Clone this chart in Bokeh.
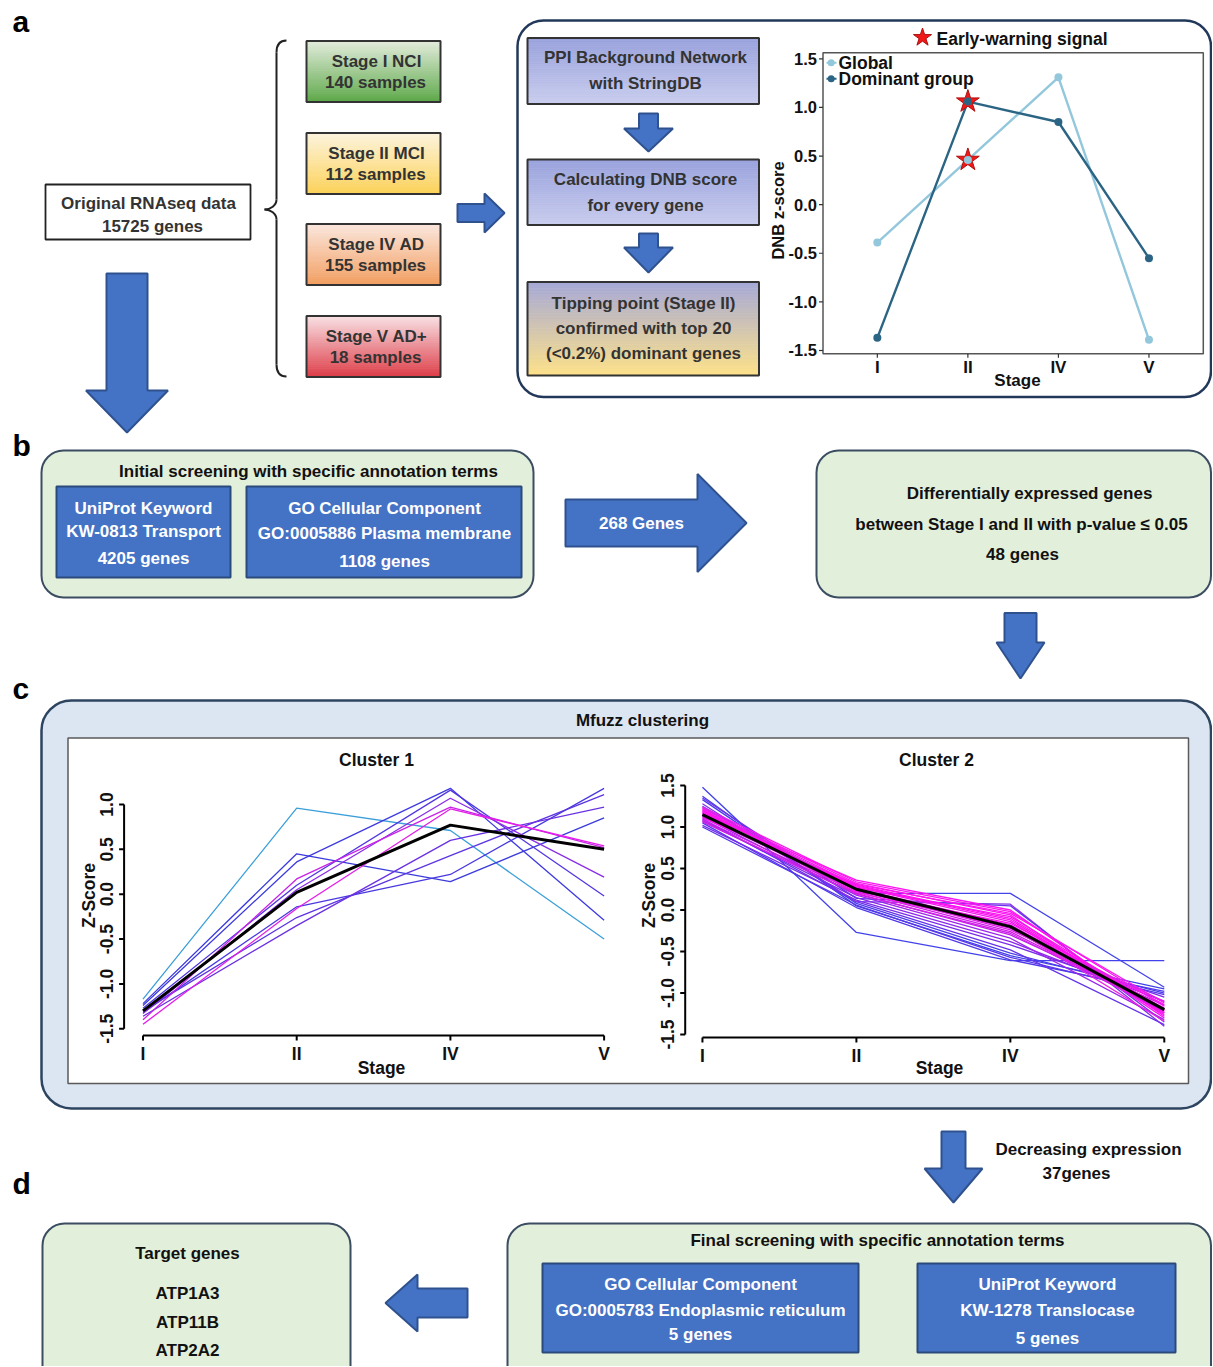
import numpy as np
from bokeh.plotting import figure
from bokeh.models import Range1d
from bokeh.core.properties import value
from bokeh.embed import file_html
from bokeh.resources import INLINE

# ======================= DATA =======================
stages = ["I", "II", "IV", "V"]

# panel a - cohorts
total_genes = 15725
stage_names = ["Stage I NCI", "Stage II MCI", "Stage IV AD", "Stage V AD+"]
stage_samples = [140, 112, 155, 18]

# panel a - DNB workflow
flow_steps = [
    ["PPI Background Network", "with StringDB"],
    ["Calculating DNB score", "for every gene"],
    ["Tipping point (Stage II)", "confirmed with top 20", "(<0.2%) dominant genes"],
]

# panel a - DNB z-score chart
dnb_global = [-0.39, 0.46, 1.31, -1.39]
dnb_dominant = [-1.37, 1.06, 0.85, -0.55]
dnb_yticks = [-1.5, -1.0, -0.5, 0.0, 0.5, 1.0, 1.5]
warning_stage = "II"

# panel b
b_title = "Initial screening with specific annotation terms"
b_box1 = ["UniProt Keyword", "KW-0813 Transport", "4205 genes"]
b_box2 = ["GO Cellular Component", "GO:0005886 Plasma membrane", "1108 genes"]
b_arrow = "268 Genes"
b_right = ["Differentially expressed genes",
           "between Stage I and II with p-value \u2264 0.05", "48 genes"]

# panel c - Mfuzz clusters (Z-score at stages I, II, IV, V)
cluster1_genes = [
    [-1.17, 0.96, 0.71, -0.50],
    [-1.22, 0.45, 0.14, 0.85],
    [-1.24, 0.36, 1.18, -0.29],
    [-1.32, -0.14, 0.22, 1.18],
    [-1.27, 0.10, 1.16, -0.02],
    [-1.30, -0.26, 0.43, 1.11],
    [-1.36, -0.35, 0.60, 0.97],
    [-1.33, 0.05, 1.07, 0.19],
    [-1.40, 0.17, 0.97, 0.52],
    [-1.45, -0.16, 0.95, 0.54],
]
cluster1_colors = ["#3c9fda", "#3b3bdc", "#3e3ae0", "#4838e0", "#5236e2",
                   "#5c34e2", "#6a30e2", "#8a2ce6", "#c822e8", "#e41ee8"]
cluster1_center = [-1.30, 0.02, 0.77, 0.50]
cluster1_yticks = [-1.5, -1.0, -0.5, 0.0, 0.5, 1.0]

cluster2_genes = [
    [1.48, -0.27, -0.61, -0.61],
    [1.37, 0.05, -0.55, -0.95],
    [1.33, 0.08, -0.52, -1.00],
    [1.25, 0.20, 0.20, -0.93],
    [1.05, 0.03, -0.60, -0.98],
    [1.00, 0.06, -0.57, -1.02],
    [1.10, 0.10, -0.48, -1.38],
    [1.02, 0.12, -0.42, -1.05],
    [1.08, 0.15, -0.38, -1.10],
    [1.12, 0.18, -0.34, -1.32],
    [1.28, 0.10, 0.07, -1.40],
    [1.35, 0.14, 0.05, -1.35],
    [1.06, 0.20, -0.30, -1.15],
    [1.09, 0.22, -0.26, -1.20],
    [1.13, 0.24, -0.22, -1.24],
    [1.15, 0.26, -0.18, -1.18],
    [1.18, 0.28, -0.14, -1.26],
    [1.20, 0.30, -0.10, -1.22],
    [1.22, 0.32, -0.06, -1.30],
    [1.24, 0.34, -0.02, -1.16],
    [1.16, 0.36, 0.00, -1.28],
    [1.11, 0.31, -0.04, -1.12],
    [1.19, 0.27, -0.08, -1.20],
    [1.14, 0.29, -0.12, -1.24],
    [1.21, 0.23, -0.16, -1.14],
    [1.17, 0.21, -0.20, -1.34],
    [1.23, 0.25, -0.24, -1.10],
    [1.07, 0.19, -0.28, -1.22],
]
cluster2_colors = (["#4242ea", "#4040ea", "#4a3cea", "#4444ea", "#5038ea", "#5836ea",
                    "#6432ea", "#7a2cea", "#8a28ea", "#9a26ea", "#8030ea", "#7032ea"]
                   + ["#c020e8", "#d01ee8", "#e01ce8", "#e81ae8", "#f018ec", "#f018ec",
                      "#f818f0", "#f818f0", "#ff14f0", "#ff14f0", "#ff10f0", "#ff10f0",
                      "#ff10f0", "#f020e8", "#e020e8", "#d020e8"])
cluster2_center = [1.15, 0.25, -0.20, -1.20]
cluster2_yticks = [-1.5, -1.0, -0.5, 0.0, 0.5, 1.0, 1.5]

# panel d
d_arrow_text = ["Decreasing expression", "37genes"]
d_title = "Final screening with specific annotation terms"
d_box1 = ["GO Cellular Component", "GO:0005783 Endoplasmic reticulum", "5 genes"]
d_box2 = ["UniProt Keyword", "KW-1278 Translocase", "5 genes"]
target_title = "Target genes"
target_genes = ["ATP1A3", "ATP11B", "ATP2A2"]

# ======================= FIGURE =======================
# one data unit == one screen pixel of the photographed page
p = figure(width=1212, height=1366, x_range=Range1d(0, 1212), y_range=Range1d(1366, 0),
           x_axis_type=None, y_axis_type=None, output_backend="svg",
           toolbar_location=None, min_border=0, outline_line_color=None)

FONT = value("Liberation Sans")
BLUE = "#4472c4"
BLUE_EDGE = "#2f528f"
GREEN_BG = "#e2efda"
GREEN_EDGE = "#3b4d61"
RIGHT = 1210.5
x_idx = list(range(1, len(stages) + 1))


def txt(target, xs, ys, texts, size=17, color="#1a1a1a", align="center",
        baseline="middle", angle=0, xo=0, yo=0, style="bold"):
    target.text(x=list(xs), y=list(ys), text=list(texts), text_font=FONT,
                text_font_size=f"{size}px", text_font_style=style, text_color=color,
                text_align=align, text_baseline=baseline, angle=angle,
                x_offset=xo, y_offset=yo)


def hex2rgb(h):
    return tuple(int(h[i:i + 2], 16) for i in (1, 3, 5))


def mix(a, b, t):
    ra, rb = hex2rgb(a), hex2rgb(b)
    return "#%02x%02x%02x" % tuple(round(ra[i] + (rb[i] - ra[i]) * t) for i in range(3))


def grad_box(l, t, r, b, ctop, cbot, edge="#333333", n=30):
    ys = np.linspace(t, b, n + 1)
    cols = [mix(ctop, cbot, (i + 0.5) / n) for i in range(n)]
    p.quad(left=[l] * n, right=[r] * n, top=ys[:-1], bottom=ys[1:],
           fill_color=cols, line_color=cols, line_width=0.8)
    p.quad(left=[l], right=[r], top=[t], bottom=[b], fill_color=None,
           line_color=edge, line_width=2)


def rbox(l, t, r, b, fill, edge, radius, lw=2.0):
    p.quad(left=[l], right=[r], top=[t], bottom=[b], fill_color=fill,
           line_color=edge, line_width=lw, border_radius=radius)


def box(l, t, r, b, fill, edge, lw=2.0):
    p.quad(left=[l], right=[r], top=[t], bottom=[b], fill_color=fill,
           line_color=edge, line_width=lw)


def arrow_down(xc, y_top, y_head, y_tip, sh, hh):
    xs = [xc - sh, xc + sh, xc + sh, xc + hh, xc, xc - hh, xc - sh]
    ys = [y_top, y_top, y_head, y_head, y_tip, y_head, y_head]
    p.patch(xs, ys, fill_color=BLUE, line_color=BLUE_EDGE, line_width=2)


def arrow_h(x_start, x_head, x_tip, yc, sh, hh):
    xs = [x_start, x_head, x_head, x_tip, x_head, x_head, x_start]
    ys = [yc - sh, yc - sh, yc - hh, yc, yc + hh, yc + sh, yc + sh]
    p.patch(xs, ys, fill_color=BLUE, line_color=BLUE_EDGE, line_width=2)


# panel letters
txt(p, [12, 12, 12, 12], [21, 445, 688, 1183], ["a", "b", "c", "d"], size=30,
    color="#000000", align="left", baseline="alphabetic")

# ======================= PANEL A =======================
box(45, 184, 250, 239, "white", "#222222", 1.8)
txt(p, [148, 152], [203, 226], ["Original RNAseq data", f"{total_genes} genes"], color="#333333")

# brace
BR = "#222222"
p.bezier(x0=[286, 276, 264, 276], y0=[40, 199, 209, 364],
         x1=[276, 264, 276, 286], y1=[52, 209, 219, 376],
         cx0=[279, 276, 270, 276], cy0=[40, 205, 209, 371],
         cx1=[276, 270, 276, 279], cy1=[45, 209, 213, 376],
         line_color=BR, line_width=2)
p.segment(x0=[276, 276], y0=[52, 219], x1=[276, 276], y1=[199, 364],
          line_color=BR, line_width=2)

stage_tops = [40.5, 132.5, 223.5, 315.5]
stage_cols = [("#e4ecdc", "#5ea94b"), ("#fdf4de", "#fbd259"),
              ("#fbe7de", "#f29f62"), ("#f8e2e5", "#de3e49")]
for t, (c1, c2) in zip(stage_tops, stage_cols):
    grad_box(306, t, 440, t + 61, c1, c2)
txt(p, [376] * 4, [t + 20 for t in stage_tops], stage_names, color="#333333")
txt(p, [375] * 4, [t + 41.5 for t in stage_tops], [f"{n} samples" for n in stage_samples],
    color="#333333")

arrow_down(126.5, 273, 390, 432, 20.5, 41)
arrow_h(457, 484, 504, 212.5, 9, 19.5)

# big rounded box
rbox(517, 20, RIGHT, 396.5, "white", "#22385a", 26, 2.5)

flow_boxes = [(37.5, 103.5), (159, 224.5), (281.5, 375)]
flow_cols = [("#99a2dc", "#c9cdee"), ("#99a2dc", "#c9cdee"), ("#a6a9d8", "#fde18a")]
for (t, b), (c1, c2) in zip(flow_boxes, flow_cols):
    grad_box(527, t, 758.5, b, c1, c2)
txt(p, [645, 645], [57, 83], flow_steps[0], color="#333333")
txt(p, [645, 645], [179, 205], flow_steps[1], color="#333333")
txt(p, [643, 643, 643], [303, 328, 353], flow_steps[2], color="#333333")
arrow_down(648, 113, 128, 151, 9.5, 24.5)
arrow_down(648, 233, 247, 272, 9.5, 24.5)

# DNB chart (sub-coordinates)
dx_src, dy_src = (0.4, 4.6), (-1.534, 1.562)
dx_tgt, dy_tgt = (822.5, 1202.8), (353.3, 52.3)
dnb = p.subplot(x_source=Range1d(*dx_src), y_source=Range1d(*dy_src),
                x_target=Range1d(*dx_tgt), y_target=Range1d(*dy_tgt))
dnb.quad(left=[dx_src[0]], right=[dx_src[1]], bottom=[dy_src[0]], top=[dy_src[1]],
         fill_color=None, line_color="#555555", line_width=1.5)
tdx = 4 * (dx_src[1] - dx_src[0]) / (dx_tgt[1] - dx_tgt[0])
tdy = 4 * (dy_src[1] - dy_src[0]) / (dy_tgt[0] - dy_tgt[1])
dnb.segment(x0=[dx_src[0]] * len(dnb_yticks), x1=[dx_src[0] - tdx] * len(dnb_yticks),
            y0=dnb_yticks, y1=dnb_yticks, line_color="#333333", line_width=1.2)
dnb.segment(x0=x_idx, x1=x_idx, y0=[dy_src[0]] * 4, y1=[dy_src[0] - tdy] * 4,
            line_color="#333333", line_width=1.2)
txt(dnb, [dx_src[0]] * len(dnb_yticks), dnb_yticks, [f"{v:.1f}" for v in dnb_yticks],
    size=16.5, color="#111111", align="right", xo=-6)
txt(dnb, x_idx, [dy_src[0]] * 4, stages, size=17, color="#111111", yo=13.5)

GLOBAL_C = "#93c7dc"
DOM_C = "#2c6584"
dnb.line(x=x_idx, y=dnb_global, line_color=GLOBAL_C, line_width=2.4)
dnb.line(x=x_idx, y=dnb_dominant, line_color=DOM_C, line_width=2.4)
wi = stages.index(warning_stage)
dnb.scatter(x=[x_idx[wi]] * 2, y=[dnb_global[wi], dnb_dominant[wi]], marker="star",
            size=24, fill_color="#f01818", line_color="#b01010", line_width=1)
dnb.scatter(x=x_idx, y=dnb_global, size=8, fill_color=GLOBAL_C, line_color=None)
dnb.scatter(x=x_idx, y=dnb_dominant, size=8, fill_color=DOM_C, line_color=None)

txt(p, [1017], [380], ["Stage"], size=17, color="#111111")
txt(p, [777], [210], ["DNB z-score"], size=16.5, color="#111111", angle=np.pi / 2)
# legend
p.segment(x0=[826, 826], x1=[836, 836], y0=[62.3, 78.3], y1=[62.3, 78.3],
          line_color=[GLOBAL_C, DOM_C], line_width=2)
p.scatter(x=[830.7, 830.7], y=[62.3, 78.3], size=7, fill_color=[GLOBAL_C, DOM_C], line_color=None)
txt(p, [838, 838], [62.3, 78.3], ["Global", "Dominant group"], size=17.5,
    color="#111111", align="left")
p.scatter(x=[922], y=[37], marker="star", size=19, fill_color="#f01818", line_color="#b01010")
txt(p, [936], [38], ["Early-warning signal"], size=17.5, color="#111111", align="left")

# ======================= PANEL B =======================
rbox(41, 450, 533, 597, GREEN_BG, GREEN_EDGE, 22, 2)
txt(p, [308], [470.5], [b_title], color="#111111")
box(56, 486, 230, 577, BLUE, "#2b4a7c", 2)
box(246, 486, 521, 577, BLUE, "#2b4a7c", 2)
txt(p, [143] * 3, [508, 531, 558], b_box1, color="white")
txt(p, [384] * 3, [508, 533, 561], b_box2, color="white")
arrow_h(565, 697, 746, 522.5, 23.5, 49)
txt(p, [641], [523], [b_arrow], color="white")
rbox(816, 450, RIGHT, 597, GREEN_BG, GREEN_EDGE, 22, 2)
txt(p, [1029, 1021, 1022], [493, 524, 554], b_right, color="#111111")
arrow_down(1020, 612.5, 642, 678, 16, 24)

# ======================= PANEL C =======================
rbox(41, 700, RIGHT, 1108, "#dce6f2", "#2d4560", 30, 2.5)
txt(p, [642], [720], ["Mfuzz clustering"], color="#111111")
box(67.5, 737.5, 1188, 1083, "white", "#5a5a5a", 1.5)


def cluster_panel(genes, colors, center, yticks, xsrc, ysrc, xtgt, ytgt):
    sp = p.subplot(x_source=Range1d(*xsrc), y_source=Range1d(*ysrc),
                   x_target=Range1d(*xtgt), y_target=Range1d(*ytgt))
    for g, c in zip(genes, colors):
        sp.line(x=x_idx, y=g, line_color=c, line_width=1.3)
    sp.line(x=x_idx, y=center, line_color="black", line_width=3)
    n = len(yticks)
    x0, y0 = xsrc[0], ysrc[0]
    tdx = 5 * (xsrc[1] - xsrc[0]) / (xtgt[1] - xtgt[0])
    tdy = 5 * (ysrc[1] - ysrc[0]) / (ytgt[0] - ytgt[1])
    sp.segment(x0=[x0], x1=[x0], y0=[yticks[0]], y1=[yticks[-1]], line_color="black", line_width=2)
    sp.segment(x0=[x0] * n, x1=[x0 - tdx] * n, y0=yticks, y1=yticks, line_color="black", line_width=2)
    txt(sp, [x0] * n, yticks, [f"{v:.1f}" for v in yticks], size=17.5, color="#111111",
        angle=np.pi / 2, baseline="bottom", xo=-11)
    sp.segment(x0=[x_idx[0]], x1=[x_idx[-1]], y0=[y0], y1=[y0], line_color="black", line_width=2)
    sp.segment(x0=x_idx, x1=x_idx, y0=[y0] * 4, y1=[y0 - tdy] * 4, line_color="black", line_width=2)
    txt(sp, x_idx, [y0] * 4, stages, size=17.5, color="#111111", yo=18)


cluster_panel(cluster1_genes, cluster1_colors, cluster1_center, cluster1_yticks,
              (0.877, 4.0), (-1.575, 1.0), (123.6, 603.6), (1035, 804))
cluster_panel(cluster2_genes, cluster2_colors, cluster2_center, cluster2_yticks,
              (0.888, 4.0), (-1.536, 1.5), (684.7, 1163.8), (1037, 785))
txt(p, [376, 936], [759, 759], ["Cluster 1", "Cluster 2"], size=17.5, color="#111111")
txt(p, [381, 939], [1067, 1067], ["Stage", "Stage"], size=17.5, color="#111111")
txt(p, [88, 648], [895, 895], ["Z-Score", "Z-Score"], size=17.5, color="#111111", angle=np.pi / 2)

# ======================= PANEL D =======================
arrow_down(953, 1131, 1168, 1202, 12, 29)
txt(p, [1088, 1076], [1149, 1173], d_arrow_text, color="#111111")
rbox(42, 1223, 350, 1400, GREEN_BG, GREEN_EDGE, 22, 2)
txt(p, [187], [1253], [target_title], color="#111111")
txt(p, [187] * 3, [1293, 1322, 1350], target_genes, color="#111111")
arrow_h(467, 417, 385, 1302.5, 14.5, 28.5)
rbox(507, 1223, RIGHT, 1400, GREEN_BG, GREEN_EDGE, 22, 2)
txt(p, [877], [1240], [d_title], color="#111111")
box(542, 1263, 858, 1352, BLUE, "#2b4a7c", 2)
box(917, 1263, 1175, 1352, BLUE, "#2b4a7c", 2)
txt(p, [700] * 3, [1284, 1310, 1334], d_box1, color="white")
txt(p, [1047] * 3, [1284, 1310, 1338], d_box2, color="white")

html = file_html(p, INLINE, title="DNB workflow")
with open("out.html", "w", encoding="utf-8") as f:
    f.write(html)
